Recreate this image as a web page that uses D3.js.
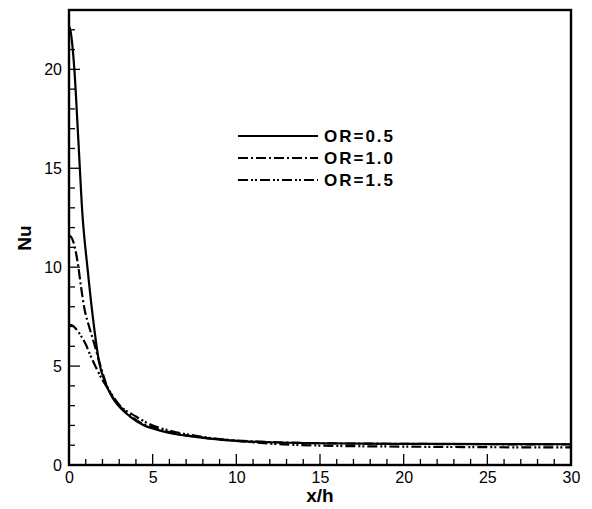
<!DOCTYPE html>
<html><head><meta charset="utf-8">
<script src="https://d3js.org/d3.v7.min.js"></script>
<style>body{margin:0;background:#fff}svg{display:block}text{font-family:"Liberation Sans",Arial,Helvetica,sans-serif}</style>
</head><body><svg id="c" width="592" height="509"></svg>
<script>
const seriesNames = ["OR=0.5","OR=1.0","OR=1.5"];
const xOR05 = [0,0.1,0.32,0.56,0.8,1.1,1.45,1.8,2.2,2.6,3,3.65,4.5,5,6,7,8.4,10,12,15,20,25,30];
const yOR05 = [22.2,21.9,20.0,16.4,12.7,10.0,7.3,5.2,4.1,3.4,2.95,2.45,2.0,1.85,1.62,1.48,1.33,1.22,1.15,1.1,1.07,1.06,1.05];
const xOR10 = [0,0.15,0.35,0.56,0.72,0.9,1.2,1.45,1.85,2.2,2.6,3,3.65,4.5,5,6,7,8.4,10,12,15,20,25,30];
const yOR10 = [11.6,11.5,11.0,10.0,9.0,8.0,7.0,6.3,5.1,4.15,3.45,3.0,2.5,2.05,1.9,1.66,1.5,1.35,1.24,1.16,1.1,1.07,1.05,1.04];
const xOR15 = [0,0.2,0.4,0.66,1.0,1.25,1.6,2.0,2.3,3,4,5,6,8,10,12,15,20,25,30];
const yOR15 = [7.1,7.05,6.9,6.6,6.1,5.6,4.95,4.3,3.9,3.05,2.45,2.0,1.74,1.42,1.22,1.08,0.98,0.93,0.9,0.89];
const xTicks = [0,5,10,15,20,25,30];
const yTicks = [0,5,10,15,20];
const dashes = [null,"10,3,2,3","10,3,2,2,2,3"];

const svg = d3.select("#c");
const L=69,R=571,T=10,B=465;
const x = d3.scaleLinear().domain([0,30]).range([L,R]);
const y = d3.scaleLinear().domain([0,23]).range([B,T]);

// minor ticks
const g = svg.append("g");
g.selectAll(".xm").data(d3.range(0,31,1)).join("line")
  .attr("x1",d=>x(d)).attr("x2",d=>x(d)).attr("y1",B).attr("y2",d=>B-(d%5===0?11:6))
  .attr("stroke","#000").attr("stroke-width",1.3);
g.selectAll(".ym").data(d3.range(0,23,1)).join("line")
  .attr("y1",d=>y(d)).attr("y2",d=>y(d)).attr("x1",L).attr("x2",d=>L+(d%5===0?11:6))
  .attr("stroke","#000").attr("stroke-width",1.3);

const xa = svg.append("g").attr("transform",`translate(0,${B})`)
  .call(d3.axisBottom(x).tickValues(xTicks).tickSize(0).tickPadding(7).tickFormat(d3.format("d")));
xa.select(".domain").remove();
xa.selectAll("text").attr("font-size",16).attr("fill","#000").style("font-family","Liberation Sans, Arial, sans-serif");
const ya = svg.append("g").attr("transform",`translate(${L},0)`)
  .call(d3.axisLeft(y).tickValues(yTicks).tickSize(0).tickPadding(7).tickFormat(d3.format("d")));
ya.select(".domain").remove();
ya.selectAll("text").attr("font-size",16).attr("fill","#000").style("font-family","Liberation Sans, Arial, sans-serif");

// curves
const data = [[xOR05,yOR05],[xOR10,yOR10],[xOR15,yOR15]];
const line = d3.line().x(d=>x(d[0])).y(d=>y(d[1])).curve(d3.curveMonotoneX);
svg.append("defs").append("clipPath").attr("id","cp").append("rect").attr("x",L).attr("y",T).attr("width",R-L).attr("height",B-T);
data.forEach((s,i)=>{
  const pts = s[0].map((v,j)=>[v,s[1][j]]);
  svg.append("path").datum(pts).attr("d",line).attr("fill","none").attr("stroke","#000")
    .attr("stroke-width",2.2).attr("stroke-dasharray",dashes[i]).attr("clip-path","url(#cp)");
});

// frame
svg.append("rect").attr("x",L).attr("y",T).attr("width",R-L).attr("height",B-T)
  .attr("fill","none").attr("stroke","#000").attr("stroke-width",2.4);

// legend
const lg = svg.append("g");
seriesNames.forEach((n,i)=>{
  const yy = 136 + i*22;
  lg.append("line").attr("x1",238).attr("x2",318).attr("y1",yy).attr("y2",yy)
    .attr("stroke","#000").attr("stroke-width",2.2).attr("stroke-dasharray",dashes[i]);
  lg.append("text").attr("x",324).attr("y",yy+6).attr("font-size",17).attr("font-weight","bold")
    .attr("textLength",69).attr("lengthAdjust","spacing").text(n);
});

// axis titles
svg.append("text").attr("x",(L+R)/2).attr("y",502).attr("text-anchor","middle")
  .attr("font-size",19).attr("font-weight","bold").text("x/h");
svg.append("text").attr("transform",`translate(31,238) rotate(-90)`).attr("text-anchor","middle")
  .attr("font-size",19).attr("font-weight","bold").text("Nu");
</script></body></html>
